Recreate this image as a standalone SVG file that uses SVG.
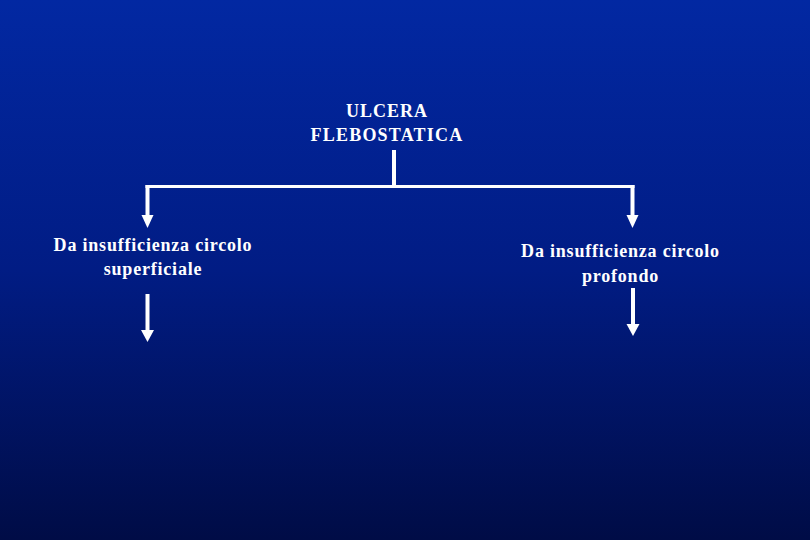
<svg xmlns="http://www.w3.org/2000/svg" width="810" height="540" viewBox="0 0 810 540">
  <defs>
    <linearGradient id="bg" x1="0" y1="0" x2="0" y2="1">
      <stop offset="0" stop-color="#0228a2"/>
      <stop offset="0.5" stop-color="#011c84"/>
      <stop offset="1" stop-color="#000c46"/>
    </linearGradient>
    <marker id="ah" viewBox="0 0 12 12" refX="6" refY="12" markerWidth="12" markerHeight="12" markerUnits="userSpaceOnUse" orient="auto-start-reverse">
      <path d="M0,0 L12,0 L6,12 Z" fill="#ffffff"/>
    </marker>
    <style>
      .t { font-family: "Liberation Serif", "Times New Roman", serif; font-weight: bold; font-size: 18px; fill: #ffffff; text-anchor: middle; letter-spacing: 0.8px; }
      .ln { stroke: #ffffff; fill: none; }
    </style>
  </defs>
  <rect x="0" y="0" width="810" height="540" fill="url(#bg)"/>

  <g id="connectors">
    <line class="ln" x1="394" y1="150" x2="394" y2="186" stroke-width="4"/>
    <line class="ln" x1="145.5" y1="186.5" x2="634.5" y2="186.5" stroke-width="3"/>
    <line class="ln" x1="147.5" y1="185" x2="147.5" y2="216" stroke-width="4"/>
    <path d="M141.5,215 L153.5,215 L147.5,228 Z" fill="#ffffff"/>
    <line class="ln" x1="632.5" y1="185" x2="632.5" y2="216" stroke-width="4"/>
    <path d="M626.5,215 L638.5,215 L632.5,228 Z" fill="#ffffff"/>
    <line class="ln" x1="147.5" y1="294" x2="147.5" y2="331" stroke-width="4"/>
    <path d="M141,330 L154,330 L147.5,342 Z" fill="#ffffff"/>
    <line class="ln" x1="633" y1="288" x2="633" y2="325" stroke-width="4"/>
    <path d="M626.5,324 L639.5,324 L633,336 Z" fill="#ffffff"/>
  </g>

  <g id="node-root">
    <text class="t" x="387" y="117" style="letter-spacing:1px">ULCERA</text>
    <text class="t" x="387" y="141" style="letter-spacing:1.2px">FLEBOSTATICA</text>
  </g>
  <g id="node-superficiale">
    <text class="t" x="153" y="250.5">Da insufficienza circolo</text>
    <text class="t" x="153" y="275">superficiale</text>
  </g>
  <g id="node-profondo">
    <text class="t" x="620.5" y="257">Da insufficienza circolo</text>
    <text class="t" x="620.5" y="281.5">profondo</text>
  </g>
</svg>
